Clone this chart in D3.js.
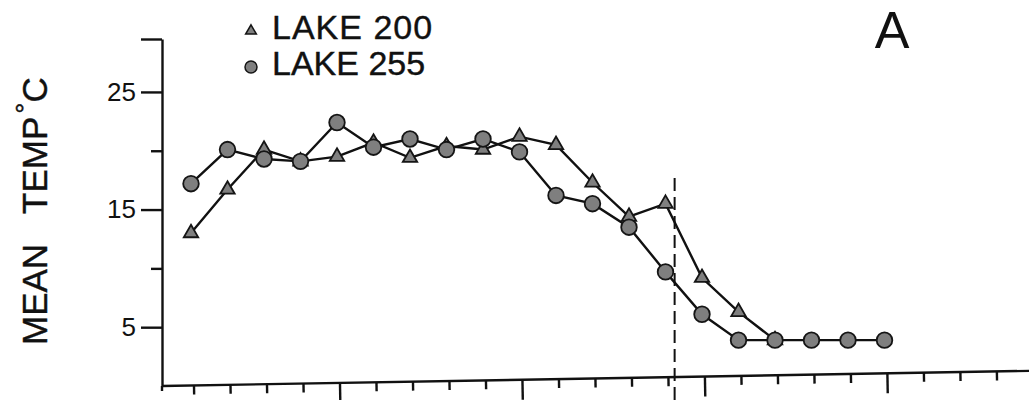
<!DOCTYPE html>
<html lang="en">
<head>
    <meta charset="UTF-8">
    <title>Mean Temperature - Lake 200 / Lake 255</title>
    <script src="https://d3js.org/d3.v7.min.js"></script>
    <style>
        body {
            margin: 0;
            background: #ffffff;
            font-family: "Liberation Sans", Arial, sans-serif;
        }
        .axis path, .axis line {
            stroke: #111;
            stroke-width: 2.4;
        }
        .axis text {
            font-family: "Liberation Sans", Arial, sans-serif;
            fill: #111;
        }
        .ink {
            fill: #111;
            stroke: #111;
            stroke-width: 0.4;
        }
    </style>
</head>
<body>
    <div id="chart"></div>
    <script>
        // Series (mean temp, deg C), one value per sampling step
        const lake200 = [13.0, 16.7, 20.1, 19.1, 19.5, 20.7, 19.4, 20.4, 20.1, 21.2,
                         20.5, 17.3, 14.4, 15.5, 9.2, 6.3, 3.9];
        const lake255 = [17.2, 20.1, 19.3, 19.1, 22.4, 20.3, 21.0, 20.1, 21.0, 19.9,
                         16.2, 15.5, 13.5, 9.7, 6.1, 3.9, 3.9, 3.9, 3.9, 3.9];

        const seriesNames = ["LAKE 200", "LAKE 255"];
        const yLabeled = [5, 15, 25];
        const yMinor = [10, 20];
        const xTicks = [0, 1, 2, 3, 4, 5, 6, 7, 8, 9, 10, 11, 12, 13, 14, 15, 16, 17, 18, 19, 20, 21, 22];
        const xMajor = [4, 9, 14, 19];
        const dashedAt = 13.25;   // vertical dashed marker
        const panelLetter = "A";

        const W = 1029, H = 400;

        const svg = d3.select("#chart")
            .append("svg")
            .attr("width", W)
            .attr("height", H);

        const x = d3.scaleLinear().domain([0, 19]).range([191, 884.5]);
        const y = d3.scaleLinear().domain([0, 29.5]).range([386, 39]);
        const axisX = 162;

        // y axis: long labelled ticks, short minor ticks
        svg.append("g")
            .attr("class", "axis")
            .attr("transform", `translate(${axisX},0)`)
            .call(d3.axisLeft(y).tickValues(yLabeled.concat([29.5])).tickSize(21).tickSizeOuter(0)
                .tickFormat(d => yLabeled.includes(d) ? d : ""))
            .call(g => g.selectAll("text").style("font-size", "26px").attr("dx", "-2"));

        svg.append("g")
            .attr("class", "axis")
            .attr("transform", `translate(${axisX},0)`)
            .call(d3.axisLeft(y).tickValues(yMinor).tickSize(11).tickFormat(""))
            .call(g => g.select(".domain").remove());

        // extend the y axis line slightly past the x axis
        svg.append("line")
            .attr("x1", axisX).attr("x2", axisX)
            .attr("y1", y(0)).attr("y2", y(0) + 5)
            .attr("stroke", "#111").attr("stroke-width", 2.4);

        // x axis (hand drawn original is slightly tilted)
        const xAxisG = svg.append("g")
            .attr("class", "axis")
            .attr("transform", `translate(0,${y(0)}) rotate(-1 ${axisX} 0)`);

        xAxisG.append("line")
            .attr("x1", axisX).attr("x2", W + 10)
            .attr("stroke", "#111").attr("stroke-width", 2.8);

        xAxisG.selectAll("line.tick")
            .data(xTicks)
            .join("line")
            .attr("class", "tick")
            .attr("x1", d => x(d) + 3).attr("x2", d => x(d) + 3)
            .attr("y1", 0)
            .attr("y2", d => xMajor.includes(d) ? 20 : 9)
            .attr("stroke", "#111").attr("stroke-width", 2);

        // dashed vertical line
        svg.append("line")
            .attr("x1", x(dashedAt)).attr("x2", x(dashedAt))
            .attr("y1", 178).attr("y2", H)
            .attr("stroke", "#111")
            .attr("stroke-width", 2)
            .attr("stroke-dasharray", "13,6");

        const line = d3.line()
            .x((d, i) => x(i))
            .y(d => y(d));

        [lake200, lake255].forEach(s => {
            svg.append("path")
                .datum(s)
                .attr("d", line)
                .attr("fill", "none")
                .attr("stroke", "#111")
                .attr("stroke-width", 2.4);
        });

        const markFill = "#7f7f7f";
        const markStroke = "#151515";
        const tri = d3.symbol().type(d3.symbolTriangle).size(90);

        svg.selectAll("path.tri")
            .data(lake200)
            .join("path")
            .attr("class", "tri")
            .attr("d", tri)
            .attr("transform", (d, i) => `translate(${x(i)},${y(d)})`)
            .attr("fill", markFill)
            .attr("stroke", markStroke)
            .attr("stroke-width", 1.8);

        svg.selectAll("circle.dot")
            .data(lake255)
            .join("circle")
            .attr("class", "dot")
            .attr("cx", (d, i) => x(i))
            .attr("cy", d => y(d))
            .attr("r", 7.8)
            .attr("fill", markFill)
            .attr("stroke", markStroke)
            .attr("stroke-width", 1.8);

        // legend
        const legend = svg.append("g").attr("transform", "translate(251,0)");
        legend.append("path")
            .attr("d", d3.symbol().type(d3.symbolTriangle).size(50)())
            .attr("transform", "translate(0,31)")
            .attr("fill", markFill).attr("stroke", markStroke).attr("stroke-width", 1.5);
        legend.append("circle")
            .attr("cx", 0).attr("cy", 67).attr("r", 6)
            .attr("fill", markFill).attr("stroke", markStroke).attr("stroke-width", 1.5);
        legend.selectAll("text")
            .data(seriesNames)
            .join("text")
            .attr("class", "ink")
            .attr("x", 21)
            .attr("y", (d, i) => 39 + i * 36)
            .style("font-size", "34px")
            .style("letter-spacing", (d, i) => i === 0 ? "1px" : "0px")
            .text(d => d);

        // y axis title
        const yTitle = svg.append("text")
            .attr("class", "ink")
            .attr("transform", "translate(47,345) rotate(-90)")
            .style("font-size", "35px");
        yTitle.append("tspan").text("MEAN");
        yTitle.append("tspan").attr("dx", 30).text("TEMP");
        yTitle.append("tspan").attr("dx", 3).attr("dy", -12).style("font-size", "28px").text("°");
        yTitle.append("tspan").attr("dy", 12).text("C");

        // panel letter
        svg.append("text")
            .attr("x", 892)
            .attr("y", 48)
            .attr("text-anchor", "middle")
            .style("font-size", "52px")
            .style("fill", "#111")
            .text(panelLetter);
    </script>
</body>
</html>
